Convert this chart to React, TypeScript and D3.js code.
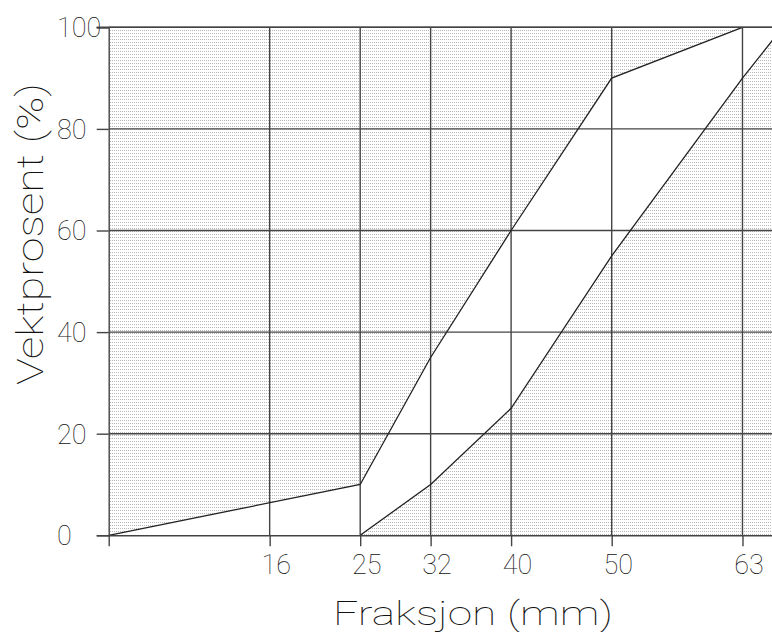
import React, { useEffect, useRef } from "react"
import * as d3 from "d3"

const WIDTH = 772
const HEIGHT = 632

// sieve sizes (mm) on the x axis
const xTicks = [16, 25, 32, 40, 50, 63]
const yTicks = [0, 20, 40, 60, 80, 100]

// upper grading limit
const upperX = [0, 25, 32, 40, 50, 63]
const upperY = [0, 10, 35, 60, 90, 100]

// lower grading limit
const lowerX = [25, 32, 40, 50, 63, 67]
const lowerY = [0, 10, 25, 55, 90, 100]

const FONT = "Roboto, 'DejaVu Sans', sans-serif"
const INK = "#444"
const TEXT = "#111"

export default function App() {
  const svgRef = useRef<SVGSVGElement | null>(null)

  useEffect(() => {
    const svgEl = svgRef.current
    if (!svgEl) return
    const svg = d3.select(svgEl)
    svg.selectAll("*").remove()

    const x = d3.scaleLinear().domain([0, 66]).range([108.7, 108.7 + 66 * 10.06])
    const y = d3.scaleLinear().domain([0, 100]).range([535.3, 27.3])
    const xMax = x.domain()[1]

    const defs = svg.append("defs")
    const pat = defs
      .append("pattern")
      .attr("id", "dots")
      .attr("patternUnits", "userSpaceOnUse")
      .attr("width", 2)
      .attr("height", 3)
    pat.append("rect").attr("width", 2).attr("height", 3).attr("fill", "#fff")
    pat.append("rect").attr("width", 1).attr("height", 1).attr("fill", "#b8b8b8")

    defs
      .append("clipPath")
      .attr("id", "plotClip")
      .append("rect")
      .attr("x", x(0))
      .attr("y", y(100) - 1)
      .attr("width", WIDTH - x(0))
      .attr("height", y(0) - y(100) + 2)

    const upper = upperX.map((v, i) => [v, upperY[i]] as [number, number])
    const lower = lowerX.map((v, i) => [v, lowerY[i]] as [number, number])

    const plot = svg.append("g").attr("clip-path", "url(#plotClip)")

    // shaded zones outside the grading band
    const areaTop = d3
      .area<[number, number]>()
      .x(d => x(d[0]))
      .y0(y(100))
      .y1(d => y(d[1]))
    const areaBottom = d3
      .area<[number, number]>()
      .x(d => x(d[0]))
      .y0(y(0))
      .y1(d => y(d[1]))

    plot
      .append("path")
      .datum([...upper, [xMax + 5, 100]] as [number, number][])
      .attr("d", areaTop)
      .attr("fill", "url(#dots)")
    plot
      .append("path")
      .datum([...lower, [xMax + 5, 100]] as [number, number][])
      .attr("d", areaBottom)
      .attr("fill", "url(#dots)")

    // grid
    plot
      .selectAll(".vgrid")
      .data(xTicks)
      .join("line")
      .attr("x1", d => x(d))
      .attr("x2", d => x(d))
      .attr("y1", y(0))
      .attr("y2", y(100))
      .attr("stroke", INK)
      .attr("stroke-width", 1.4)
    plot
      .selectAll(".hgrid")
      .data(yTicks.filter(d => d > 0))
      .join("line")
      .attr("x1", x(0))
      .attr("x2", WIDTH + 5)
      .attr("y1", d => y(d))
      .attr("y2", d => y(d))
      .attr("stroke", INK)
      .attr("stroke-width", 1.4)

    // curves
    const line = d3
      .line<[number, number]>()
      .x(d => x(d[0]))
      .y(d => y(d[1]))
    plot
      .append("path")
      .datum(upper)
      .attr("d", line)
      .attr("fill", "none")
      .attr("stroke", "#222")
      .attr("stroke-width", 1.3)
    plot
      .append("path")
      .datum(lower)
      .attr("d", line)
      .attr("fill", "none")
      .attr("stroke", "#222")
      .attr("stroke-width", 1.3)

    // axes
    const xAxis = d3.axisBottom(x).tickValues(xTicks).tickSize(11).tickSizeOuter(11).tickPadding(9)
    const gx = svg.append("g").attr("transform", `translate(0,${y(0)})`).call(xAxis)
    gx.select(".domain").attr("stroke", INK).attr("stroke-width", 1.4)
    gx.selectAll(".tick line").attr("stroke", INK).attr("stroke-width", 1.4)
    gx.selectAll(".tick text")
      .attr("dx", 6)
      .attr("font-family", FONT)
      .attr("font-weight", 100)
      .attr("font-size", 27)
      .attr("fill", TEXT)

    const yAxis = d3.axisLeft(y).tickValues(yTicks).tickSize(12).tickSizeOuter(12)
    const gy = svg.append("g").attr("transform", `translate(${x(0)},0)`).call(yAxis)
    gy.select(".domain").attr("stroke", INK).attr("stroke-width", 1.4)
    gy.selectAll(".tick line").attr("stroke", INK).attr("stroke-width", 1.4)
    gy.selectAll(".tick text")
      .attr("x", 57 - x(0))
      .attr("dy", "0.35em")
      .attr("text-anchor", "start")
      .attr("font-family", FONT)
      .attr("font-weight", 100)
      .attr("font-size", 27)
      .attr("fill", TEXT)
    // top frame line, extends like the tick
    svg
      .append("line")
      .attr("x1", x(0) - 12)
      .attr("x2", WIDTH + 5)
      .attr("y1", y(100))
      .attr("y2", y(100))
      .attr("stroke", INK)
      .attr("stroke-width", 1.4)

    // axis titles
    svg
      .append("text")
      .attr("x", 473)
      .attr("y", 625)
      .attr("text-anchor", "middle")
      .attr("font-family", FONT)
      .attr("font-weight", 100)
      .attr("font-size", 34)
      .attr("fill", TEXT)
      .attr("textLength", 280)
      .attr("lengthAdjust", "spacingAndGlyphs")
      .text("Fraksjon (mm)")

    svg
      .append("text")
      .attr("transform", "translate(43,234) rotate(-90)")
      .attr("text-anchor", "middle")
      .attr("font-family", FONT)
      .attr("font-weight", 100)
      .attr("font-size", 36)
      .attr("fill", TEXT)
      .attr("textLength", 302)
      .attr("lengthAdjust", "spacingAndGlyphs")
      .text("Vektprosent (%)")
  }, [])

  return (
    <svg
      ref={svgRef}
      width={WIDTH}
      height={HEIGHT}
      style={{ position: "absolute", left: 0, top: 0, background: "#fff" }}
    />
  )
}
